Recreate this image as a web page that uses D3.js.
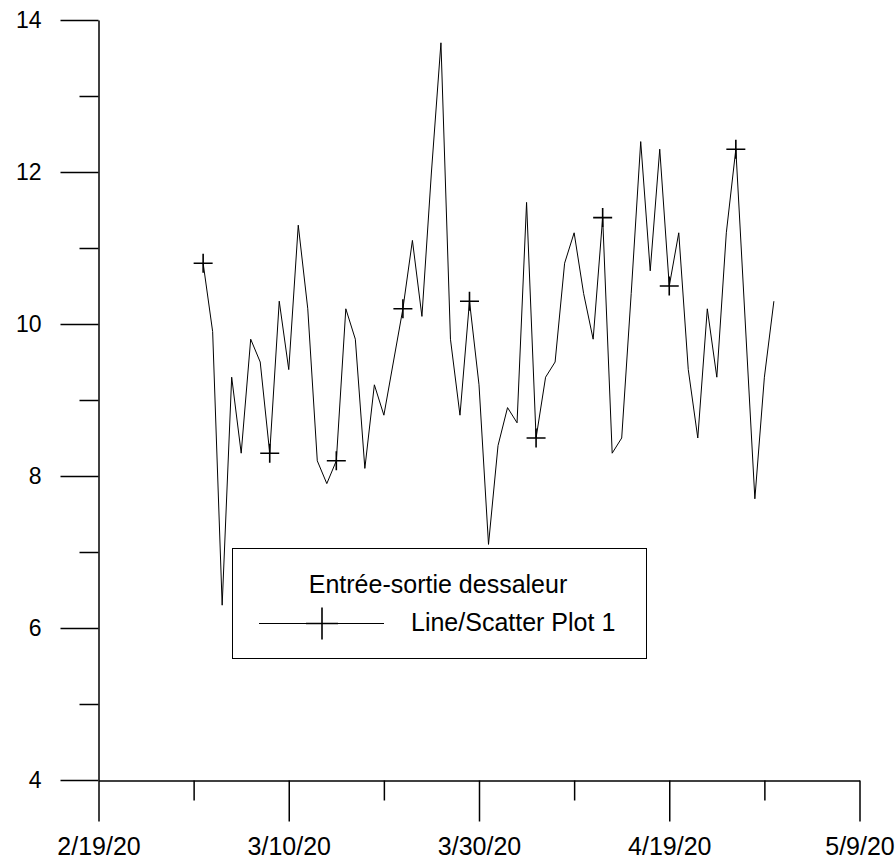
<!DOCTYPE html>
<html>
<head>
<meta charset="utf-8">
<script src="https://cdn.jsdelivr.net/npm/d3@7"></script>
<style>
	body { margin: 0; background: #fff; }
	text { font-family: "Liberation Sans", Arial, sans-serif; fill: #000; }
</style>
</head>
<body>
<svg id="chart"></svg>
<script>
// daily readings, starting 3/1/20
const startDate = new Date(Date.UTC(2020, 2, 1));
const stepDays = 1;
const values = [
	10.8, 9.9, 6.3, 9.3, 8.3, 9.8, 9.5, 8.3, 10.3, 9.4,
	11.3, 10.2, 8.2, 7.9, 8.2, 10.2, 9.8, 8.1, 9.2, 8.8,
	9.5, 10.2, 11.1, 10.1, 12.0, 13.7, 9.8, 8.8, 10.3, 9.2,
	7.1, 8.4, 8.9, 8.7, 11.6, 8.5, 9.3, 9.5, 10.8, 11.2,
	10.4, 9.8, 11.4, 8.3, 8.5, 10.4, 12.4, 10.7, 12.3, 10.5,
	11.2, 9.4, 8.5, 10.2, 9.3, 11.2, 12.3, 10.0, 7.7, 9.3,
	10.3
];
const markerEvery = 7;

const xTicks = ["2020-02-19", "2020-03-10", "2020-03-30", "2020-04-19", "2020-05-09"];
const xMinorTicks = ["2020-02-29", "2020-03-20", "2020-04-09", "2020-04-29"];
const yTicks = [4, 6, 8, 10, 12, 14];
const yMinorTicks = [5, 7, 9, 11, 13];

const legendTitle = "Entrée-sortie dessaleur";
const seriesName = "Line/Scatter Plot 1";

const width = 896, height = 866;
const parse = d3.utcParse("%Y-%m-%d");
const fmt = d3.utcFormat("%-m/%-d/%y");

const data = values.map((v, i) => ({
	date: d3.utcDay.offset(startDate, i * stepDays),
	value: v
}));

const svg = d3.select("#chart")
	.attr("width", width)
	.attr("height", height);

const x = d3.scaleUtc()
	.domain([parse(xTicks[0]), parse(xTicks[xTicks.length - 1])])
	.range([98.5, 859.5]);

const y = d3.scaleLinear()
	.domain([4, 14])
	.range([780, 20]);

// y axis
const yAxis = svg.append("g")
	.attr("transform", "translate(98.5,0)")
	.call(d3.axisLeft(y)
		.tickValues(yTicks)
		.tickSize(38)
		.tickPadding(19)
		.tickSizeOuter(0)
		.tickFormat(d3.format("d")));

svg.append("g")
	.attr("transform", "translate(98.5,0)")
	.call(d3.axisLeft(y)
		.tickValues(yMinorTicks)
		.tickSize(19)
		.tickSizeOuter(0)
		.tickFormat(""))
	.select(".domain").remove();

// x axis
const xAxis = svg.append("g")
	.attr("transform", "translate(0,780.5)")
	.call(d3.axisBottom(x)
		.tickValues(xTicks.map(parse))
		.tickSize(41)
		.tickPadding(16)
		.tickSizeOuter(0)
		.tickFormat(fmt));

svg.append("g")
	.attr("transform", "translate(0,780.5)")
	.call(d3.axisBottom(x)
		.tickValues(xMinorTicks.map(parse))
		.tickSize(20)
		.tickSizeOuter(0)
		.tickFormat(""))
	.select(".domain").remove();

svg.selectAll(".tick line, .domain")
	.attr("stroke", "#000")
	.attr("stroke-width", 1.5);

yAxis.selectAll("text").style("font-size", "23px");
xAxis.selectAll("text").style("font-size", "25px");

// series
const line = d3.line()
	.x(d => x(d.date))
	.y(d => y(d.value));

svg.append("path")
	.datum(data)
	.attr("fill", "none")
	.attr("stroke", "#000")
	.attr("stroke-width", 1)
	.attr("d", line);

const plus = (s) => `M${-s},0H${s}M0,${-s}V${s}`;

svg.selectAll(".marker")
	.data(data.filter((d, i) => i % markerEvery === 0))
	.join("path")
	.attr("class", "marker")
	.attr("transform", d => `translate(${x(d.date)},${y(d.value)})`)
	.attr("d", plus(9.5))
	.attr("fill", "none")
	.attr("stroke", "#000")
	.attr("stroke-width", 1.6);

// legend
const legend = svg.append("g").attr("class", "legend");

legend.append("rect")
	.attr("x", 232.5)
	.attr("y", 548.5)
	.attr("width", 414)
	.attr("height", 110)
	.attr("fill", "#fff")
	.attr("stroke", "#000")
	.attr("stroke-width", 1);

legend.append("text")
	.attr("x", 438)
	.attr("y", 593)
	.attr("text-anchor", "middle")
	.style("font-size", "25px")
	.text(legendTitle);

legend.append("line")
	.attr("x1", 259)
	.attr("x2", 384)
	.attr("y1", 623.5)
	.attr("y2", 623.5)
	.attr("stroke", "#000")
	.attr("stroke-width", 1);

legend.append("path")
	.attr("transform", "translate(322,623.5)")
	.attr("d", plus(16))
	.attr("fill", "none")
	.attr("stroke", "#000")
	.attr("stroke-width", 1.6);

legend.append("text")
	.attr("x", 411)
	.attr("y", 631)
	.style("font-size", "25px")
	.text(seriesName);
</script>
</body>
</html>
